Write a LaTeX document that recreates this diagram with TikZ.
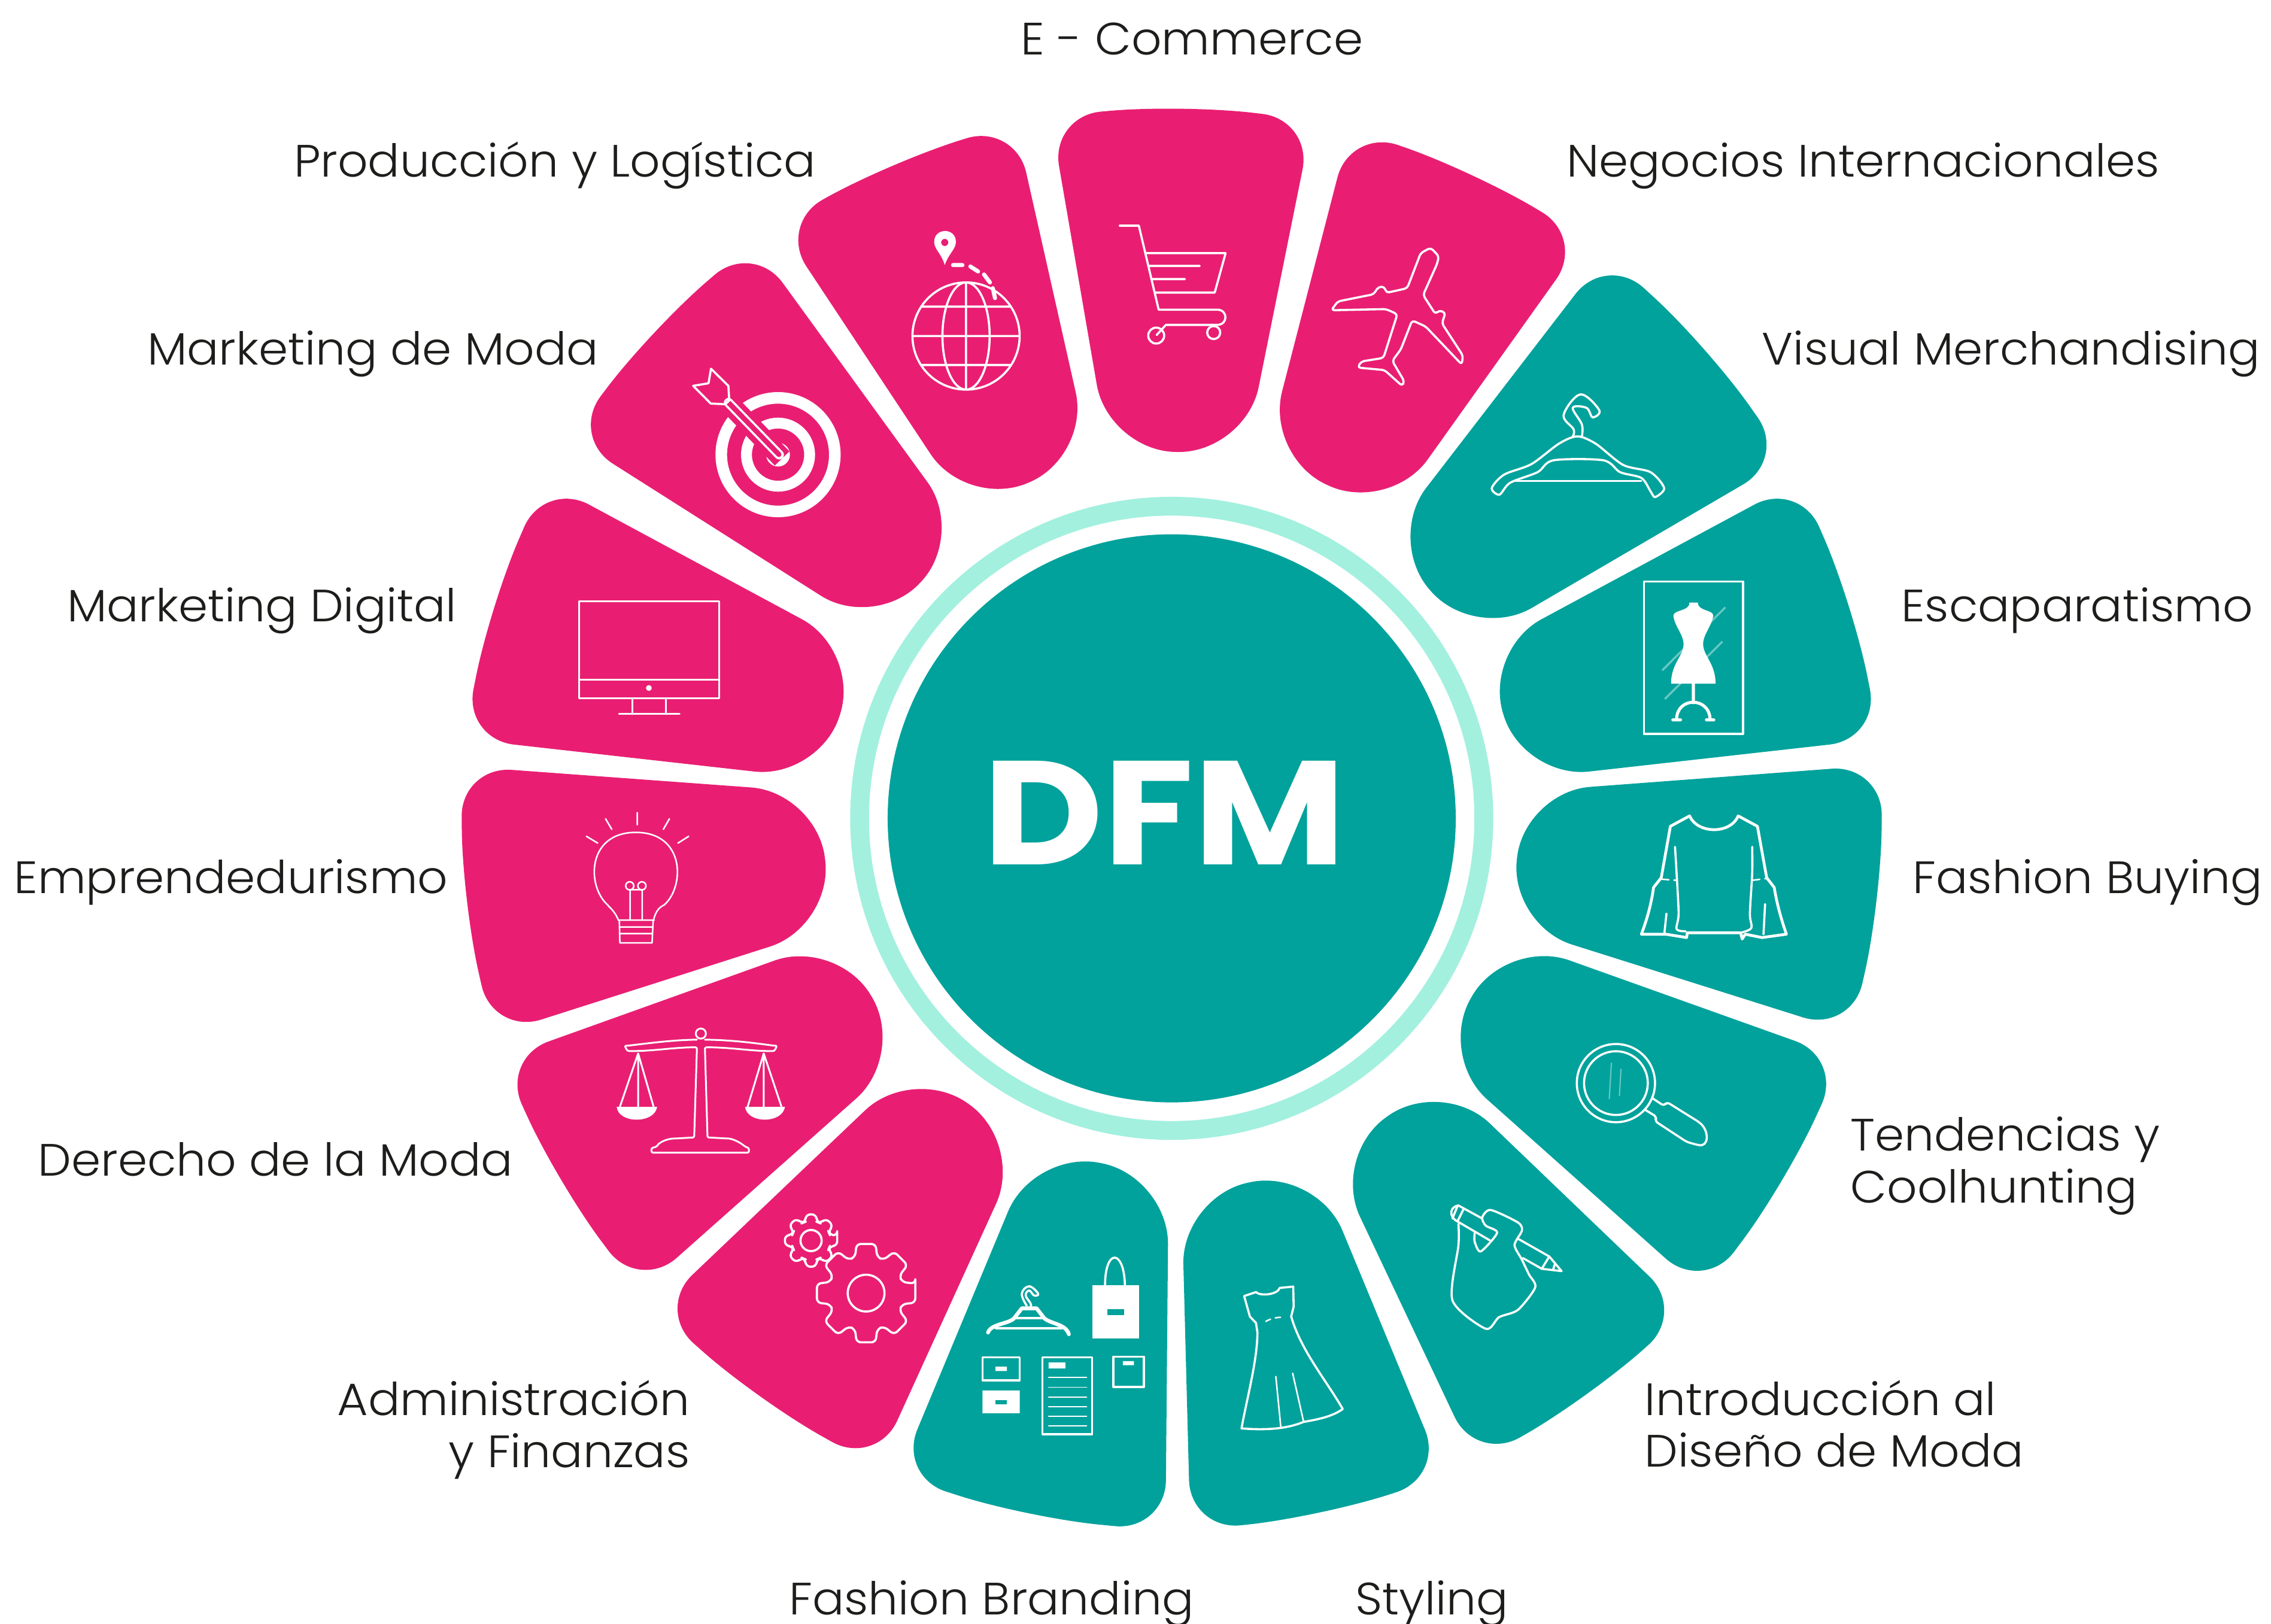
\documentclass[tikz,border=0pt]{standalone}
\usepackage{fontspec}
\usepackage{tikz}
\newfontfamily\labelfont[FakeStretch=1.042]{Poppins Light}
\newfontfamily\hubfont[FakeStretch=1.12]{Poppins Bold}
\definecolor{petalpink}{HTML}{E91E73}
\definecolor{petalteal}{HTML}{02A29C}
\definecolor{hubring}{HTML}{A3F0DF}
\definecolor{labelink}{HTML}{1D1D1B}
\tikzset{every node/.style={font=\labelfont\fontsize{8.9}{10.2}\selectfont,text=labelink,inner sep=0pt},
  iconline/.style={draw=white,line width=.42pt,line join=round,line cap=round},
  thinline/.style={draw=white,line width=.3pt,line join=round,line cap=round}}
% one wedge of the wheel: colour, from angle, to angle, how near it gets to the hub
\newcommand{\petal}[4]
{\pgfmathsetmacro{\pmid}{(#2+#3)/2}
  \pgfmathsetmacro{\prin}{#4/cos((#3-#2)/2)}
  \pgfmathsetmacro{\pbend}{0.0098*\prin*sin((#3-#2)/2)}
  \fill[#1] (\pmid:#4) [rounded corners=\pbend cm] -- (#2:\prin)
    [rounded corners=.35cm] -- (#2:492) [rounded corners=.5cm] -- (\pmid:493)
    [rounded corners=.35cm] -- (#3:492) [rounded corners=\pbend cm] -- (#3:\prin)
    [sharp corners] -- cycle;}
\newcommand{\gearicon}[5]
{\begin{scope}[shift={(#1,#2)}]
    \draw[iconline,rounded corners=.03cm] (-11:#3)
      \foreach \t in {0,45,...,315} {-- (\t-11:#3) -- (\t+11:#3) -- (\t+17:#4) -- (\t+28:#4)} -- cycle;
    \draw[iconline] (0,0) circle (#5);
  \end{scope}}
\begin{document}
\begin{tikzpicture}[x=0.01cm,y=-0.01cm]
  \useasboundingbox (0,0) rectangle (1568,1121);
  \begin{scope}[shift={(809,565)}]
    \foreach \pcol/\afrom/\ato/\rnear in {petalpink/-99.8/-78.6/253, petalpink/-75.5/-54.5/254,
      petalteal/-52.4/-30.3/238, petalteal/-28.3/-6.4/240, petalteal/-4.3/17.5/240,
      petalteal/19.65/41.7/241, petalteal/43.8/64.7/254, petalteal/67.5/88.5/257,
      petalteal/90.5/112.6/243, petalpink/114.5/136.4/242, petalpink/138.4/160.3/241,
      petalpink/162.3/184.2/241, petalpink/186.4/208.3/240, petalpink/212.4/234/238,
      petalpink/236.5/257.3/252}
      \petal{\pcol}{\afrom}{\ato}{\rnear};
  \end{scope}
  \draw[hubring,line width=.13cm] (809,565) circle (215.5);
  \node (hub) at (809,565) [circle,fill=petalteal,minimum size=3.92cm]{};
  \node (hubname) at (804,561) [font=\hubfont\fontsize{29}{29}\selectfont,text=white]{DFM};
  % labels
  \node (ecommerce) at (823,38) [anchor=base]{E - Commerce};
  \node (produccion) at (564,122) [anchor=base east]{Producción y Logística};
  \node (negocios) at (1081,122) [anchor=base west]{Negocios Internacionales};
  \node (mktmoda) at (414,252) [anchor=base east]{Marketing de Moda};
  \node (visual) at (1216,252) [anchor=base west]{Visual Merchandising};
  \node (mktdigital) at (316,429) [anchor=base east]{Marketing Digital};
  \node (escaparate) at (1312,429) [anchor=base west]{Escaparatismo};
  \node (emprende) at (310,617) [anchor=base east]{Emprendedurismo};
  \node (buying) at (1320,617) [anchor=base west]{Fashion Buying};
  \node (derecho) at (355,812) [anchor=base east]{Derecho de la Moda};
  \node (tendencias) at (1277,805) [anchor=west,align=left]{Tendencias y\\Coolhunting};
  \node (admin) at (477,987) [anchor=east,align=right]{Administración\\y Finanzas};
  \node (intro) at (1135,983) [anchor=west,align=left]{Introducción al\\Diseño de Moda};
  \node (branding) at (825,1115) [anchor=base east]{Fashion Branding};
  \node (styling) at (935,1115) [anchor=base west]{Styling};
  % globe and pin
  \draw[iconline] (667,232) circle (37) (667,232) ellipse (16.3 and 37) (667,195) -- (667,269)
    (630,232) -- (704,232) (636.6,211.7) -- (697.4,211.7) (636.6,252) -- (697.4,252);
  \fill[white,even odd rule] (652.3,183) .. controls (650,175) and (645,172) .. (645,167) .. controls (645,157) and (660,157) .. (660,167) .. controls (660,172) and (655,175) .. (652.3,183) -- cycle (652.3,167.4) circle (2.5);
  \draw[iconline,line width=.8pt] (658,183) -- (664.5,183) (670,184) -- (675.3,187.4) (679.4,189.5) -- (683.5,195) (685.5,199) -- (687,205.8);
  % cart
  \draw[iconline] (773,155.8) -- (786.3,155.8) -- (800,213.8) -- (840.4,213.8) .. controls (848,213.8) and (848,224.3) .. (840.4,224.3) -- (805,224.3) -- (798.6,231.3)
    (791.4,174.8) -- (846.2,174.8) -- (838.7,202) -- (797.6,202) (793,183.6) -- (828.4,183.6) (795.9,192.7) -- (818.1,192.7);
  \draw[iconline] (798.3,231.7) circle (5.5) (838,229.6) circle (4.5);
  % plane
  \draw[iconline,rounded corners=.02cm] (987.7,171) -- (993.5,176.9) -- (992.2,182.2) -- (982.6,203.7) -- (991.1,216.9) -- (993.5,214.2) -- (998,215.9) -- (995.6,223.3) -- (1010,245.4) -- (1009.3,251.7) -- (984.3,225.4) -- (975,221.2) -- (967.2,241.2) -- (961.3,249.2) -- (969.6,263.3) -- (968.2,266.5) -- (955.9,255.5) -- (937.4,253.8) -- (939.8,249.6) -- (955.2,247.1) -- (964.8,216.9) -- (956.9,213.4) -- (919.2,214.2) -- (923.7,208.1) -- (948.3,203.2) -- (951.8,198) -- (955.9,198) -- (957.2,202.2) -- (971.6,199) -- (980.9,174.8) -- cycle;
  % coat hanger
  \draw[iconline] plot[smooth cycle,tension=.5] coordinates {(1030,337) (1038.5,327.7) (1057.4,320.4) (1076.4,306.3) (1089,301.3) (1101.7,306.3) (1120.7,321) (1139.6,326) (1149,337) (1142.8,343.2) (1139.6,339.2) (1133.3,330) (1118.6,326) (1107,317.8) (1072.6,317.8) (1061.6,326) (1042.7,333.3) (1035.3,341.5)};
  \draw[thinline] (1045.2,332) -- (1133.3,332);
  \draw[iconline] plot[smooth,tension=.6] coordinates {(1085.9,301.3) (1086.5,296.4) (1079.6,286.5) (1091.2,272.3) (1104.2,283.2) (1099.6,288.1) (1095.4,281.6) (1085.9,281.6) (1092.2,293.1) (1092.2,301.3)};
  % mannequin in a frame
  \draw[iconline] (1135,401.5) rectangle (1203.5,506.6);
  \draw[white,opacity=.4,line width=.4pt] (1147.7,462.8) -- (1191.3,419.3) (1149.5,482.6) -- (1189.2,443);
  \fill[white] (1166.4,416) -- (1172.3,416) .. controls (1172,422) and (1183,421) .. (1182.9,425) .. controls (1182,432) and (1175.9,438) .. (1175.9,444.7) .. controls (1176,453) and (1184.5,458) .. (1184.5,472) -- (1153.8,472) .. controls (1153.8,458) and (1162.4,453) .. (1162.4,444.7) .. controls (1162.4,438) and (1156,432) .. (1155.4,425) .. controls (1155.4,421) and (1167,422) .. (1166.4,416) -- cycle;
  \draw[iconline,line width=.6pt] (1169.2,472) -- (1169.2,485.2) (1157.6,496.4) .. controls (1158,481) and (1180,481) .. (1180.7,496.4) (1155,497) -- (1160.3,497) (1178.2,497) -- (1183.3,497);
  % blouse
  \draw[iconline,line width=.55pt] (1166.6,563.3) .. controls (1172,576) and (1195,576) .. (1200.1,563.3) -- (1213.4,570.5) -- (1219.8,606) -- (1225,612.7) .. controls (1227,625) and (1230,635) .. (1233.4,645) -- (1216.6,647.3) -- (1205,645) -- (1202.9,648.3) -- (1201.8,644) -- (1165,644) -- (1164.5,647.3) -- (1150.2,645) -- (1133.3,645) .. controls (1137,635) and (1140,625) .. (1141.7,612.7) -- (1147,606) -- (1153.3,570.5) -- cycle;
  \draw[iconline] plot[smooth] coordinates {(1156.5,584.7) (1157.6,602.8) (1159,630.8) (1157.6,641.4) (1163.9,643)} plot[smooth] coordinates {(1209.8,584.7) (1209.8,602.8) (1208.2,630.8) (1209.2,640.7) (1201.8,644)} (1150.6,630.8) -- (1149.1,645) (1218.7,624.2) -- (1217.6,645);
  \draw[thinline,dash pattern=on 1.5pt off 1pt] (1147,607) -- (1157.6,607.8) (1209.8,607.8) -- (1219.8,606.5);
  % magnifier
  \draw[iconline] (1115.7,747.8) circle (27) (1115.7,747.8) circle (22);
  \draw[iconline,rounded corners=.02cm] (1140.6,758) -- (1149,763.6) -- (1150.8,760.8) -- (1172.9,774.6) .. controls (1180,781) and (1180,792) .. (1171,790.2) -- (1164.6,788.4) -- (1142.5,773.9) -- (1144,771.2) -- (1135.5,766);
  \draw[white,opacity=.4,line width=.25pt] (1112.6,733.7) -- (1111.1,758.8) (1119.2,738) -- (1118.1,756.7);
  % hand with pencil
  \draw[iconline] plot[smooth,tension=.45] coordinates {(1007,845) (1007,859.6) (1002.8,897.7) (1025.8,917.4) (1035,909.4) (1048,904.4) (1060,888.8) (1055.6,879.8) (1050.8,869.7) (1045.7,859.6) (1050.8,849.6) (1048,844) (1029.2,835.4) (1023.4,840.6) (1025.8,846.2) (1033.7,851.1) (1022.4,864) (1018.2,857.4) (1018.2,851.1)};
  \draw[iconline] (1007,832.3) .. controls (1001,833) and (1000,840) .. (1006.3,843.3) -- (1029.2,856.7) (1007,832.3) -- (1023.4,841.3) (1048,855.2) -- (1069.7,867.5) -- (1078.2,877.6) -- (1064.5,876) -- (1051.5,868.6) (1069.7,867.5) -- (1064.5,876) (1073.8,872) -- (1072.4,876.4) (1006.3,832.8) -- (1002.8,841.3) (1010.4,835) -- (1006.3,843.3);
  % dress
  \draw[iconline] (859,894.8) -- (867.2,892.1) .. controls (870,895) and (882,894) .. (883.6,889.2) -- (892.9,888.3) -- (893.2,902.2) -- (891.5,908.9) .. controls (898,932) and (915,952) .. (927.1,972.8) .. controls (920,978) and (910,980) .. (900.1,981.7) .. controls (892,985) and (880,988) .. (857.2,986.2) .. controls (861,965) and (868,940) .. (868.2,920.1) -- (867.2,913.4) -- (863,909) -- cycle;
  \draw[thinline] (880.9,950.4) -- (884.3,985) (892.5,948.1) -- (900.1,981.7);
  \draw[thinline,dash pattern=on 1pt off 1pt] (874,912.3) .. controls (878,910) and (882,909.4) .. (886.4,909.4);
  % branding sheet: hanger, bag, boxes
  \draw[iconline,line width=.75pt] (682.2,920) .. controls (684,914) and (697,914) .. (700.3,910) -- (705.5,903.3) -- (715.7,903.3) -- (720.9,910) .. controls (725,914) and (736,914) .. (738,921.2);
  \draw[thinline,line width=.45pt] (687.6,917) -- (732.9,917) (700.3,910) -- (720.9,910);
  \draw[iconline] plot[smooth,tension=.7] coordinates {(708.9,901.5) (705.5,893.2) (710.6,888.1) (716.8,893.2) (714,894.4) (710.6,891) (708.2,894.4) (711.6,900) (711.6,902.2)};
  \fill[petalteal] (707.5,905) rectangle (713,907);
  \fill[white] (754.1,887.2) rectangle (786.3,924.2);
  \fill[petalteal] (764.7,904) rectangle (776,907.8);
  \draw[iconline] (763,887.2) .. controls (763,862) and (776,862) .. (776.7,887.2);
  \draw[iconline] (678.4,937.1) rectangle (704.1,953);
  \fill[white] (687.3,943.6) rectangle (695.2,946.6) (678.4,960) rectangle (704.1,975.7);
  \fill[petalteal] (687.3,966.5) rectangle (695.2,969.4);
  \draw[iconline] (719.8,937.1) rectangle (754.1,990.2) (768.8,936.7) rectangle (789.7,957.5);
  \fill[white] (724,940.7) rectangle (735.6,944.8) (775.3,939.8) rectangle (782.9,942.5);
  \foreach \ly in {951,957.8,964.5,971.2,977.7,984.4}
    \draw[thinline,line width=.2pt] (724,\ly) -- (750.3,\ly);
  % gears
  \gearicon{598}{892.8}{34.6}{26}{12.7}
  \gearicon{560}{856.5}{18.4}{13.5}{7.3}
  % scales
  \draw[iconline,line width=.35pt,rounded corners=.01cm] (481.2,717.8) .. controls (465,718) and (450,720) .. (433.2,722) -- (431.3,722) -- (433.2,725.6) .. controls (450,726) and (465,723) .. (481.2,723.1) -- (479.3,785.3) -- (467.3,786) .. controls (460,786) and (455,789) .. (453.5,791.6) -- (449.8,792.7) -- (449.8,795.8) -- (517.1,795.8) -- (517.1,792.7) -- (514.4,791.6) .. controls (510,788) and (505,786) .. (501.4,786) -- (488.5,785.3) -- (486.7,723.1) .. controls (505,723) and (520,726) .. (534.7,725.6) -- (536.5,722) -- (534.7,722) .. controls (520,720) and (505,718) .. (486.7,717.8);
  \draw[iconline,line width=.35pt] (483.9,713.6) circle (3.5);
  \draw[iconline,line width=.35pt] (428,764.2) -- (440.6,727.3) -- (451.3,764.2) (440.6,727.3) -- (440.6,764.2) (516.2,764.2) -- (527.3,727.3) -- (539.6,764.2) (527.3,727.3) -- (527.3,764.2);
  \fill[white] (425.8,764.2) -- (453.7,764.2) .. controls (452,776) and (427,776) .. (425.8,764.2) -- cycle (514.4,764.2) -- (542,764.2) .. controls (540,776) and (516,776) .. (514.4,764.2) -- cycle;
  % bulb
  \draw[thinline] (427,635.3) .. controls (424,628) and (420,626) .. (419.6,624.8) .. controls (405,612) and (405,574.7) .. (439,574.7) .. controls (473,574.7) and (473,612) .. (458.6,624.8) .. controls (456,626) and (453,628) .. (451.2,635.3) (427,635.3) -- (451.7,635.3) (427.6,635.3) -- (428,651) -- (450.2,651) -- (451,635.3) (427.6,640) -- (450.2,640) (427.8,644.6) -- (450.2,644.6) (435,614.3) -- (435,635.3) (443.4,614.3) -- (443.4,635.3) (435,614.3) -- (443.4,614.3) (440,561) -- (440,569.5) (418.1,565.3) -- (422.4,572.6) (462.2,565.3) -- (458,572.6) (404.9,577.4) -- (412.7,582.1) (475.5,577.4) -- (468.1,582.1);
  \draw[thinline] (434.8,611.6) circle (2.8) (443.2,611.6) circle (2.8);
  % monitor
  \draw[iconline,line width=.35pt] (400,415) rectangle (496.6,482) (400,469.3) -- (496.6,469.3) (436.7,482) -- (436.7,493) (459.9,482) -- (459.9,493) (427.4,493) -- (469.2,493);
  \fill[white] (448,475) circle (2);
  % target with dart
  \draw[white,line width=.08cm] (537.2,313.9) circle (39.2);
  \draw[white,line width=.075cm] (537.2,313.9) circle (21.8);
  \fill[white] (537.2,313.9) circle (8.2);
  \draw[petalpink,line width=.14cm] (500,275) -- (540,316.5);
  \draw[white,line width=.065cm,line cap=round] (503,278) -- (538,314);
  \draw[petalpink,line width=.035cm,line cap=round] (503,278) -- (537.8,313.8);
  \draw[iconline] (490.9,254.6) -- (502.9,266.4) -- (503.5,276.5) -- (500.8,279.1) -- (490.7,278.6) -- (478.6,266.4) -- (489.2,264.6) -- cycle;
\end{tikzpicture}
\end{document}
